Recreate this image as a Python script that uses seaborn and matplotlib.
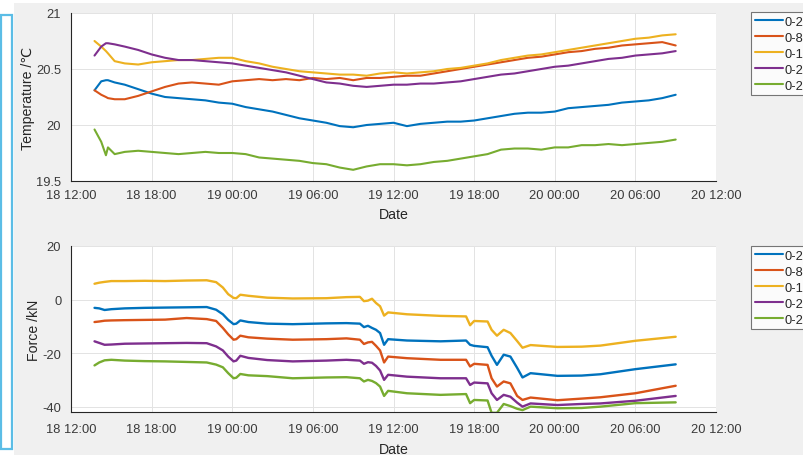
import pandas as pd
import matplotlib
matplotlib.use("Agg")
import matplotlib.pyplot as plt
import matplotlib.dates as mdates
from matplotlib.lines import Line2D
from matplotlib.patches import Rectangle
from matplotlib.ticker import FuncFormatter
import seaborn as sns

# ---- measurement series -------------------------------------------------
series_names = ["0-2", "0-8", "0-14", "0-20", "0-26"]
series_colors = ["#0072BD", "#D95319", "#EDB120", "#7E2F8E", "#77AC30"]

start_time = pd.Timestamp("2019-06-18 12:00")
end_time = pd.Timestamp("2019-06-20 12:00")

# temperature, hours after 18 12:00
temp_hours = [1.75, 2.25, 2.6, 2.75, 3.25] + list(range(4, 46))
temp_0_2 = [20.31, 20.39, 20.40, 20.40, 20.38, 20.36, 20.32, 20.28, 20.25, 20.24,
            20.23, 20.22, 20.20, 20.19, 20.16, 20.14, 20.12, 20.09, 20.06, 20.04,
            20.02, 19.99, 19.98, 20.00, 20.01, 20.02, 19.99, 20.01, 20.02, 20.03,
            20.03, 20.04, 20.06, 20.08, 20.10, 20.11, 20.11, 20.12, 20.15, 20.16,
            20.17, 20.18, 20.20, 20.21, 20.22, 20.24, 20.27]
temp_0_8 = [20.31, 20.27, 20.25, 20.24, 20.23, 20.23, 20.26, 20.30, 20.34, 20.37,
            20.38, 20.37, 20.36, 20.39, 20.40, 20.41, 20.40, 20.41, 20.40, 20.42,
            20.41, 20.42, 20.40, 20.42, 20.42, 20.43, 20.44, 20.44, 20.46, 20.48,
            20.50, 20.52, 20.54, 20.56, 20.58, 20.60, 20.61, 20.63, 20.65, 20.66,
            20.68, 20.69, 20.71, 20.72, 20.73, 20.74, 20.71]
temp_0_14 = [20.75, 20.70, 20.66, 20.64, 20.57, 20.55, 20.54, 20.56, 20.57, 20.58,
             20.58, 20.59, 20.60, 20.60, 20.57, 20.55, 20.52, 20.50, 20.48, 20.47,
             20.46, 20.45, 20.45, 20.44, 20.46, 20.47, 20.46, 20.47, 20.48, 20.50,
             20.51, 20.53, 20.55, 20.58, 20.60, 20.62, 20.63, 20.65, 20.67, 20.69,
             20.71, 20.73, 20.75, 20.77, 20.78, 20.80, 20.81]
temp_0_20 = [20.62, 20.70, 20.73, 20.73, 20.72, 20.70, 20.67, 20.63, 20.60, 20.58,
             20.58, 20.57, 20.56, 20.55, 20.53, 20.51, 20.49, 20.47, 20.44, 20.41,
             20.38, 20.37, 20.35, 20.34, 20.35, 20.36, 20.36, 20.37, 20.37, 20.38,
             20.39, 20.41, 20.43, 20.45, 20.46, 20.48, 20.50, 20.52, 20.53, 20.55,
             20.57, 20.59, 20.60, 20.62, 20.63, 20.64, 20.66]
temp_0_26 = [19.96, 19.85, 19.73, 19.80, 19.74, 19.76, 19.77, 19.76, 19.75, 19.74,
             19.75, 19.76, 19.75, 19.75, 19.74, 19.71, 19.70, 19.69, 19.68, 19.66,
             19.65, 19.62, 19.60, 19.63, 19.65, 19.65, 19.64, 19.65, 19.67, 19.68,
             19.70, 19.72, 19.74, 19.78, 19.79, 19.79, 19.78, 19.80, 19.80, 19.82,
             19.82, 19.83, 19.82, 19.83, 19.84, 19.85, 19.87]

# force, hours after 18 12:00
force_hours = [1.75, 2.1, 2.5, 3.0, 4.0, 5.5, 7.0, 8.6, 10.1, 10.8,
               11.3, 11.7, 12.1, 12.3, 12.6, 13.2, 14.6, 16.5, 19.0, 20.5,
               21.5, 21.8, 22.1, 22.4, 22.7, 23.0, 23.3, 23.6, 25.0, 27.5,
               29.4, 29.7, 30.0, 31.0, 31.3, 31.7, 32.2, 32.7, 33.2, 33.6,
               34.2, 36.2, 38.0, 39.4, 42.0, 45.0]
force_0_2 = [-3.1, -3.3, -3.9, -3.6, -3.3, -3.1, -3.0, -2.9, -2.8, -3.8,
             -5.5, -7.6, -9.2, -9.0, -7.8, -8.4, -9.0, -9.2, -8.9, -8.8,
             -9.0, -10.3, -9.8, -10.6, -11.3, -12.5, -16.9, -14.8, -15.3, -15.6,
             -15.3, -16.9, -17.3, -17.8, -21.0, -24.4, -20.6, -21.3, -25.5, -29.1,
             -27.5, -28.5, -28.4, -27.9, -26.0, -24.2]
force_0_8 = [-8.4, -8.2, -7.9, -7.8, -7.7, -7.6, -7.5, -6.9, -7.3, -8.0,
             -10.6, -13.0, -15.0, -14.8, -13.5, -14.1, -14.6, -15.0, -14.8, -14.5,
             -15.0, -16.6, -16.0, -15.8, -17.3, -19.0, -23.5, -21.3, -21.9, -22.5,
             -22.5, -25.0, -24.0, -24.4, -29.4, -32.5, -30.6, -31.3, -36.0, -37.5,
             -36.6, -37.6, -37.0, -36.5, -35.0, -32.2]
force_0_14 = [5.9, 6.3, 6.6, 6.9, 6.9, 7.0, 6.9, 7.1, 7.2, 6.5,
              4.5, 2.0, 0.6, 0.5, 1.8, 1.4, 0.7, 0.4, 0.5, 0.9,
              1.0, -0.6, -0.4, 0.3, -1.3, -2.5, -6.0, -4.8, -5.5, -6.1,
              -6.3, -9.6, -8.0, -8.2, -11.3, -13.5, -11.3, -12.5, -15.5, -18.0,
              -17.0, -17.7, -17.6, -17.2, -15.4, -13.9]
force_0_20 = [-15.6, -16.2, -16.9, -16.8, -16.5, -16.4, -16.3, -16.2, -16.3, -17.5,
              -19.0, -21.3, -23.1, -22.8, -21.0, -21.8, -22.6, -23.1, -22.8, -22.5,
              -22.8, -24.0, -23.4, -23.6, -24.8, -26.5, -30.0, -28.1, -28.8, -29.4,
              -29.4, -31.9, -31.0, -31.3, -35.0, -37.5, -35.6, -36.3, -38.5, -40.0,
              -38.8, -39.4, -39.0, -38.8, -37.8, -36.0]
force_0_26 = [-24.6, -23.5, -22.7, -22.5, -22.8, -23.0, -23.1, -23.3, -23.5, -24.3,
              -25.3, -27.5, -29.4, -29.2, -27.8, -28.3, -28.6, -29.4, -29.1, -29.0,
              -29.4, -30.6, -30.0, -30.4, -31.2, -32.5, -36.0, -34.1, -35.0, -35.6,
              -35.3, -38.7, -37.5, -37.7, -42.3, -42.3, -39.0, -39.8, -40.8, -41.3,
              -40.0, -40.6, -40.5, -40.0, -38.7, -38.4]

temp_ticks = [19.5, 20, 20.5, 21]
force_ticks = [-40, -20, 0, 20]


def long_table(hours, columns):
    times = start_time + pd.to_timedelta(hours, unit="h")
    frames = [pd.DataFrame({"time": times, "value": vals, "series": name})
              for name, vals in zip(series_names, columns)]
    return pd.concat(frames, ignore_index=True)


temp_df = long_table(temp_hours, [temp_0_2, temp_0_8, temp_0_14, temp_0_20, temp_0_26])
force_df = long_table(force_hours, [force_0_2, force_0_8, force_0_14, force_0_20, force_0_26])

# ---- figure ---------------------------------------------------------------
sns.set_style("white")
plt.rcParams["font.family"] = ["Liberation Sans", "DejaVu Sans"]

W, H = 804, 456
fig = plt.figure(figsize=(W / 100, H / 100), dpi=100, facecolor="white")

# grey window background and the framed strip on the left edge
fig.patches.append(Rectangle((14 / W, 0), 1, (H - 4) / H, transform=fig.transFigure,
                             facecolor="#f0f0f0", edgecolor="none", zorder=-10))
fig.patches.append(Rectangle((1.5 / W, 6 / H), 10.5 / W, 434 / H, transform=fig.transFigure,
                             facecolor="white", edgecolor="#5bbde6", lw=1.6, zorder=-9))

ax1 = fig.add_axes([71 / W, 1 - 182 / H, 645 / W, 168 / H])
ax2 = fig.add_axes([71 / W, 1 - 413 / H, 645 / W, 166 / H])

palette = dict(zip(series_names, series_colors))
sns.lineplot(data=temp_df, x="time", y="value", hue="series", hue_order=series_names,
             palette=palette, estimator=None, sort=False, legend=False, lw=1.5, ax=ax1)
sns.lineplot(data=force_df, x="time", y="value", hue="series", hue_order=series_names,
             palette=palette, estimator=None, sort=False, legend=False, lw=1.7, ax=ax2)

ink = "#262626"
for ax, ticks, ylim, ylabel, label_x, xpad, date_pad in [
        (ax1, temp_ticks, (19.5, 21), "Temperature /\u2103", -0.056, 6, 4),
        (ax2, force_ticks, (-42, 20), "Force /kN", -0.046, 8, 5)]:
    ax.set_facecolor("white")
    ax.set_xlim(start_time, end_time)
    ax.set_ylim(*ylim)
    ax.set_yticks(ticks)
    ax.yaxis.set_major_formatter(FuncFormatter(lambda v, p: f"{v:g}"))
    ax.xaxis.set_major_locator(mdates.HourLocator(byhour=[0, 6, 12, 18]))
    ax.xaxis.set_major_formatter(mdates.DateFormatter("%d %H:%M"))
    for side in ("top", "right"):
        ax.spines[side].set_visible(False)
    for side in ("left", "bottom"):
        ax.spines[side].set_color(ink)
        ax.spines[side].set_linewidth(0.8)
    ax.grid(True, color="#e3e3e3", lw=0.7)
    ax.set_axisbelow(True)
    ax.tick_params(direction="in", length=4, width=0.8, colors=ink,
                   labelsize=9.3, labelcolor="#3a3a3a")
    ax.tick_params(axis="x", pad=xpad)
    ax.tick_params(axis="y", pad=7)
    ax.set_xlabel("Date", fontsize=10.2, color=ink, labelpad=date_pad)
    ax.set_ylabel(ylabel, fontsize=10.2, color=ink)
    ax.yaxis.set_label_coords(label_x, 0.5)

handles = [Line2D([], [], color=c, lw=1.5) for c in series_colors]
for top_px in (13, 247):
    leg = fig.legend(handles, series_names, loc="upper left",
                     bbox_to_anchor=(751 / W, 1 - top_px / H), bbox_transform=fig.transFigure,
                     frameon=True, fancybox=False, fontsize=9.3, borderpad=0.3,
                     handlelength=2.2, handletextpad=0.1, labelspacing=0.3,
                     borderaxespad=0)
    leg.get_frame().set_edgecolor("#555555")
    leg.get_frame().set_linewidth(0.8)
    leg.get_frame().set_facecolor("white")
    for t in leg.get_texts():
        t.set_color(ink)

fig.savefig("out.png", dpi=100, facecolor=fig.get_facecolor())
